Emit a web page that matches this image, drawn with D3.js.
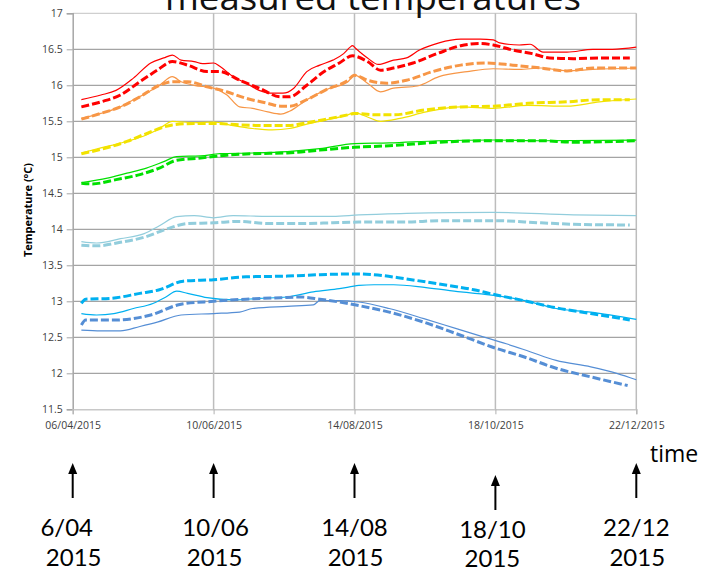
<!DOCTYPE html>
<html>
<head>
<meta charset="utf-8">
<script src="https://d3js.org/d3.v7.min.js"></script>
<style>
  body { margin: 0; background: #fff; }
  svg { display: block; font-family: "Open Sans", sans-serif; }
</style>
</head>
<body>
<div id="chart"></div>
<script>

// readings: [days after 06/04/2015, temperature °C]
var redSolid = [[4,15.80],[13,15.865],[20,15.93],[28,16.10],[36,16.31],[42,16.38],[46,16.42],[50,16.35],[56,16.33],[60,16.30],[65,16.31],[68,16.26],[74,16.12],[80,16.03],[86,15.93],[92,15.89],[97,15.89],[102,15.96],[108,16.19],[114,16.28],[120,16.35],[125,16.44],[128,16.53],[129,16.55],[131,16.50],[133,16.45],[136,16.38],[141,16.29],[148,16.35],[154,16.38],[160,16.49],[169,16.59],[179,16.64],[188,16.64],[194,16.63],[197,16.59],[206,16.56],[211,16.57],[217,16.46],[228,16.46],[240,16.50],[249,16.50],[260,16.53]];
var redDashed = [[4,15.70],[13,15.77],[22,15.865],[31,16.05],[39,16.21],[46,16.33],[53,16.28],[62,16.19],[68,16.19],[77,16.07],[86,15.96],[96,15.84],[100,15.84],[108,16.00],[115,16.17],[123,16.31],[129,16.41],[136,16.33],[142,16.21],[148,16.24],[157,16.31],[169,16.45],[179,16.55],[188,16.58],[194,16.56],[203,16.49],[212,16.44],[220,16.38],[231,16.37],[243,16.38],[257,16.38]];
var orangeSolid = [[4,15.54],[13,15.61],[22,15.70],[28,15.80],[34,15.89],[40,16.00],[46,16.12],[50,16.05],[56,16.00],[65,15.96],[71,15.87],[77,15.70],[83,15.68],[90,15.63],[96,15.60],[100,15.64],[108,15.80],[117,15.94],[127,16.05],[130,16.14],[136,16.03],[142,15.91],[148,15.96],[159,15.99],[169,16.12],[182,16.19],[194,16.23],[206,16.22],[216,16.24],[228,16.20],[240,16.22],[260,16.24]];
var orangeDashed = [[4,15.53],[13,15.61],[22,15.70],[31,15.84],[40,16.00],[46,16.05],[53,16.05],[62,15.98],[71,15.91],[80,15.82],[90,15.75],[96,15.71],[100,15.71],[108,15.80],[117,15.94],[127,16.07],[130,16.14],[136,16.07],[145,16.03],[154,16.07],[166,16.19],[179,16.28],[191,16.31],[203,16.28],[216,16.24],[228,16.20],[240,16.24],[260,16.24]];
var yellowSolid = [[4,15.06],[13,15.13],[25,15.22],[34,15.31],[40,15.40],[46,15.50],[56,15.48],[65,15.49],[74,15.44],[83,15.40],[92,15.38],[100,15.40],[108,15.46],[117,15.52],[127,15.59],[130,15.62],[136,15.56],[142,15.50],[151,15.54],[163,15.63],[179,15.70],[194,15.68],[210,15.72],[228,15.71],[243,15.77],[260,15.81]];
var yellowDashed = [[4,15.05],[13,15.11],[25,15.22],[34,15.33],[46,15.45],[56,15.47],[65,15.47],[77,15.45],[90,15.44],[99,15.44],[108,15.48],[117,15.53],[127,15.59],[130,15.61],[139,15.59],[148,15.59],[163,15.66],[179,15.70],[194,15.71],[210,15.75],[228,15.77],[243,15.80],[257,15.80]];
var greenSolid = [[4,14.65],[16,14.71],[25,14.78],[34,14.85],[42,14.94],[48,15.01],[59,15.02],[68,15.05],[83,15.06],[99,15.08],[114,15.12],[130,15.19],[146,15.20],[169,15.23],[194,15.24],[216,15.23],[260,15.24]];
var greenDashed = [[4,14.64],[9,14.63],[20,14.69],[31,14.76],[40,14.85],[48,14.96],[59,14.99],[71,15.03],[83,15.05],[99,15.06],[114,15.10],[130,15.14],[146,15.16],[169,15.21],[194,15.23],[216,15.23],[231,15.21],[260,15.23]];
var lightBlueSolid = [[4,13.83],[11,13.81],[22,13.87],[33,13.94],[40,14.05],[48,14.175],[56,14.19],[65,14.16],[74,14.19],[90,14.18],[105,14.18],[120,14.18],[132,14.20],[154,14.22],[194,14.235],[231,14.20],[260,14.19]];
var lightBlueDashed = [[4,13.78],[11,13.77],[22,13.82],[33,13.89],[43,14.00],[53,14.08],[65,14.09],[77,14.11],[90,14.08],[105,14.08],[120,14.09],[132,14.10],[154,14.10],[169,14.12],[194,14.12],[216,14.09],[231,14.07],[257,14.06]];
var cyanSolid = [[4,12.83],[11,12.81],[19,12.83],[28,12.90],[37,12.97],[43,13.06],[48,13.14],[53,13.11],[62,13.05],[74,13.02],[86,13.04],[99,13.06],[111,13.13],[123,13.175],[132,13.22],[139,13.23],[148,13.23],[163,13.19],[179,13.13],[195,13.08],[210,13.00],[223,12.90],[239,12.85],[260,12.75]];
var cyanDashed = [[4,12.97],[6,13.03],[17,13.04],[31,13.11],[40,13.16],[51,13.28],[65,13.30],[80,13.34],[99,13.35],[114,13.37],[132,13.38],[139,13.37],[154,13.31],[169,13.24],[185,13.16],[195,13.09],[208,13.01],[223,12.91],[239,12.83],[257,12.74]];
var darkBlueSolid = [[4,12.60],[13,12.59],[22,12.59],[31,12.65],[39,12.71],[50,12.81],[65,12.83],[77,12.85],[83,12.90],[99,12.93],[111,12.95],[114,13.01],[123,13.01],[132,12.99],[146,12.90],[162,12.76],[177,12.62],[189,12.51],[200,12.41],[211,12.30],[223,12.18],[239,12.09],[251,12.00],[260,11.91]];
var darkBlueDashed = [[4,12.67],[6,12.74],[20,12.74],[36,12.81],[50,12.96],[65,13.00],[80,13.03],[96,13.05],[105,13.06],[114,13.03],[123,12.99],[132,12.94],[146,12.85],[162,12.71],[177,12.55],[195,12.35],[208,12.23],[223,12.07],[239,11.95],[256,11.83]];

var yTicks = [11.5, 12, 12.5, 13, 13.5, 14, 14.5, 15, 15.5, 16, 16.5, 17];
var xTickLabels = ["06/04/2015", "10/06/2015", "14/08/2015", "18/10/2015", "22/12/2015"];
var arrowLabels = ["6/04", "10/06", "14/08", "18/10", "22/12"];
var arrowYear = "2015";
var chartTitle = "measured temperatures";
var yTitle = "Temperature (°C)";
var timeLabel = "time";

var series = [
  {data: redSolid, color: "#ff0000", dashed: false},
  {data: orangeSolid, color: "#f79646", dashed: false},
  {data: yellowSolid, color: "#f2e200", dashed: false},
  {data: greenSolid, color: "#00e000", dashed: false},
  {data: lightBlueSolid, color: "#92cddc", dashed: false},
  {data: cyanSolid, color: "#00b0f0", dashed: false},
  {data: darkBlueSolid, color: "#558ed5", dashed: false},
  {data: redDashed, color: "#ff0000", dashed: true},
  {data: orangeDashed, color: "#f79646", dashed: true},
  {data: yellowDashed, color: "#f2e200", dashed: true},
  {data: greenDashed, color: "#00e000", dashed: true},
  {data: lightBlueDashed, color: "#92cddc", dashed: true},
  {data: cyanDashed, color: "#00b0f0", dashed: true},
  {data: darkBlueDashed, color: "#558ed5", dashed: true}
];

// set the dimensions and margins of the graph
var margin = {top: 13.3, right: 72.7, bottom: 163.7, left: 72.7},
    width = 709 - margin.left - margin.right,
    height = 573 - margin.top - margin.bottom;

var parseDate = d3.timeParse("%d/%m/%Y");
var tickDates = xTickLabels.map(parseDate);
var startDate = tickDates[0];

var svg0 = d3.select("#chart")
  .append("svg")
    .attr("width", 709)
    .attr("height", 573);

var svg = svg0.append("g")
    .attr("transform", "translate(" + margin.left + "," + margin.top + ")");

var x = d3.scaleTime()
  .domain([tickDates[0], tickDates[tickDates.length - 1]])
  .range([0, width]);

var y = d3.scaleLinear()
  .domain([11.5, 17])
  .range([height, 0]);

// horizontal grid
svg.append("g")
  .selectAll("line")
  .data(yTicks.slice(1))
  .enter()
  .append("line")
    .attr("x1", 0)
    .attr("x2", width)
    .attr("y1", function(d) { return y(d); })
    .attr("y2", function(d) { return y(d); })
    .attr("stroke", function(d) { return d === 17 ? "#c4c4c4" : "#8e8e8e"; })
    .attr("stroke-width", 1);

// vertical grid
svg.append("g")
  .selectAll("line")
  .data(tickDates.slice(1))
  .enter()
  .append("line")
    .attr("x1", function(d) { return x(d); })
    .attr("x2", function(d) { return x(d); })
    .attr("y1", 0)
    .attr("y2", height)
    .attr("stroke", "#bdbdbd")
    .attr("stroke-width", 1.5);

// Y axis
var yAxis = svg.append("g")
  .call(d3.axisLeft(y).tickValues(yTicks).tickSize(6).tickPadding(4).tickFormat(d3.format("")));
yAxis.select(".domain").attr("stroke", "#a6a6a6").attr("stroke-width", 1.5);
yAxis.selectAll(".tick line").attr("stroke", "#a6a6a6");
yAxis.selectAll("text")
  .attr("fill", "#404040")
  .style("font-size", "10.5px")
  .style("font-family", "'Open Sans', sans-serif");

// X axis
var xAxis = svg.append("g")
  .attr("transform", "translate(0," + height + ")")
  .call(d3.axisBottom(x).tickValues(tickDates).tickSize(5).tickPadding(7).tickFormat(d3.timeFormat("%d/%m/%Y")));
xAxis.select(".domain").attr("stroke", "#c8c8c8").attr("stroke-width", 1.5);
xAxis.selectAll(".tick line").attr("stroke", "#b0b0b0");
xAxis.selectAll("text")
  .attr("fill", "#404040")
  .style("font-size", "10.5px")
  .style("font-family", "'Open Sans', sans-serif");

// lines
var line = d3.line()
  .x(function(d) { return x(d3.timeDay.offset(startDate, d[0])); })
  .y(function(d) { return y(d[1]); })
  .curve(d3.curveMonotoneX);

svg.selectAll("path.series")
  .data(series)
  .enter()
  .append("path")
    .attr("class", "series")
    .attr("d", function(d) { return line(d.data); })
    .attr("fill", "none")
    .attr("stroke", function(d) { return d.color; })
    .attr("stroke-width", function(d) { return d.dashed ? 3 : 1.2; })
    .attr("stroke-dasharray", function(d) { return d.dashed ? "8,3" : null; });

// y title
svg0.append("text")
  .attr("transform", "translate(32,210) rotate(-90)")
  .attr("text-anchor", "middle")
  .style("font-size", "10.5px")
  .style("font-weight", "bold")
  .attr("textLength", 94)
  .attr("lengthAdjust", "spacingAndGlyphs")
  .attr("fill", "#000")
  .text(yTitle);

// big title, cut by the top edge
svg0.append("text")
  .attr("x", 373)
  .attr("y", 10)
  .attr("text-anchor", "middle")
  .style("font-size", "34px")
  .attr("textLength", 416)
  .attr("lengthAdjust", "spacingAndGlyphs")
  .attr("fill", "#111")
  .text(chartTitle);

// time label
svg0.append("text")
  .attr("x", 650)
  .attr("y", 462)
  .style("font-size", "23px")
  .attr("fill", "#000")
  .text(timeLabel);

// arrows under the dates
var drop = [0, 0, 0, 12, 0];
var labelShift = [-6, 2, 0, -3, 0];
var ann = svg0.append("g")
  .style("font-family", "Lato, sans-serif")
  .style("font-size", "24px");
tickDates.forEach(function(d, i) {
  var ax = margin.left + x(d);
  var top = 463 + drop[i];
  var low = drop[i] ? 2.5 : 0;
  ann.append("line")
    .attr("x1", ax).attr("x2", ax)
    .attr("y1", top + 8).attr("y2", top + 35)
    .attr("stroke", "#000")
    .attr("stroke-width", 2);
  ann.append("path")
    .attr("d", "M" + ax + "," + top + "L" + (ax - 4.5) + "," + (top + 11) + "L" + (ax + 4.5) + "," + (top + 11) + "Z")
    .attr("fill", "#000");
  ann.append("text")
    .attr("x", ax + labelShift[i])
    .attr("y", 535.5 + low)
    .attr("text-anchor", "middle")
    .attr("fill", "#000")
    .text(arrowLabels[i]);
  ann.append("text")
    .attr("x", ax + (i === 3 ? -3 : 1))
    .attr("y", 566 + low / 2)
    .attr("text-anchor", "middle")
    .attr("fill", "#000")
    .text(arrowYear);
});

</script>
</body>
</html>
